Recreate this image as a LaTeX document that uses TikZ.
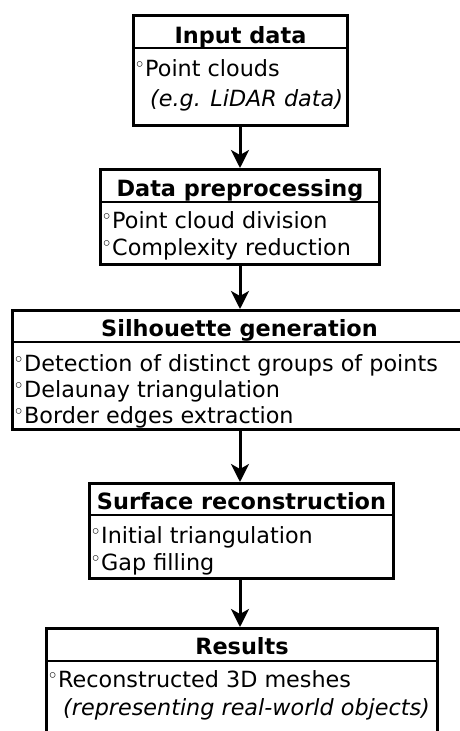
\documentclass[tikz,border=0pt]{standalone}
\usepackage{fontspec}
\setmainfont{DejaVu Sans}
\usetikzlibrary{arrows.meta}
\newcommand{\bul}{\makebox[11pt][c]{\raisebox{4.5pt}{\fontsize{19}{19}\selectfont ◦}}}
\begin{document}
\begin{tikzpicture}[x=1pt,y=1pt,
  box/.style={draw=black, line width=3pt, inner sep=0pt, anchor=north west},
  sepline/.style={line width=2.8pt},
  head/.style={font=\fontsize{22.4}{26}\selectfont\bfseries, inner sep=0pt, anchor=base},
  body/.style={font=\fontsize{22.3}{26}\selectfont, inner sep=0pt, anchor=base west},
  note/.style={font=\fontsize{22.3}{26}\selectfont\itshape, inner sep=0pt, anchor=base west},
  arr/.style={line width=3pt, -{Stealth[length=18pt,width=18pt,inset=5pt]}}]
\useasboundingbox (0,0) rectangle (460,-731);
\fill[white] (0,0) rectangle (460,-731);
\coordinate (ax) at (240,0);
% boxes
\node[box, minimum width=214pt, minimum height=110pt] (b1) at (132,-14) {};
\node[box, minimum width=279pt, minimum height=95pt] (b2) at (99,-168) {};
\node[box, minimum width=454pt, minimum height=119pt] (b3) at (11,-309) {};
\node[box, minimum width=304pt, minimum height=95pt] (b4) at (88,-482) {};
\node[box, minimum width=391pt, minimum height=140pt] (b5) at (45,-627) {};
% separators
\draw[sepline] (b1.west |- 0,-48) -- (b1.east |- 0,-48);
\draw[sepline] (b2.west |- 0,-202) -- (b2.east |- 0,-202);
\draw[sepline] (b3.west |- 0,-342) -- (b3.east |- 0,-342);
\draw[sepline] (b4.west |- 0,-515) -- (b4.east |- 0,-515);
\draw[sepline] (b5.west |- 0,-661) -- (b5.east |- 0,-661);
% headers
\node[head] (h1) at (b1.north |- 0,-43) {Input data};
\node[head] (h2) at (b2.north |- 0,-196) {Data preprocessing};
\node[head] (h3) at (b3.north |- 0,-336) {Silhouette generation};
\node[head] (h4) at (b4.north |- 0,-509) {Surface reconstruction};
\node[head] (h5) at (b5.north |- 0,-654) {Results};
% bodies
\node[body] (l1a) at (134,-76) {\bul Point clouds};
\node[note] (l1b) at (150,-106) {(e.g. LiDAR data)};
\node[body] (l2a) at (101,-228) {\bul Point cloud division};
\node[body] (l2b) at (101,-255) {\bul Complexity reduction};
\node[body] (l3a) at (13,-371) {\bul Detection of distinct groups of points};
\node[body] (l3b) at (13,-397) {\bul Delaunay triangulation};
\node[body] (l3c) at (13,-423) {\bul Border edges extraction};
\node[body] (l4a) at (90,-543) {\bul Initial triangulation};
\node[body] (l4b) at (90,-570) {\bul Gap filling};
\node[body] (l5a) at (47,-687) {\bul Reconstructed 3D meshes};
\node[note] (l5b) at (63,-715) {(representing real-world objects)};
% arrows
\draw[arr] (b1.south -| ax) -- (b2.north -| ax);
\draw[arr] (b2.south -| ax) -- (b3.north -| ax);
\draw[arr] (b3.south -| ax) -- (b4.north -| ax);
\draw[arr] (b4.south -| ax) -- (b5.north -| ax);
\end{tikzpicture}
\end{document}
